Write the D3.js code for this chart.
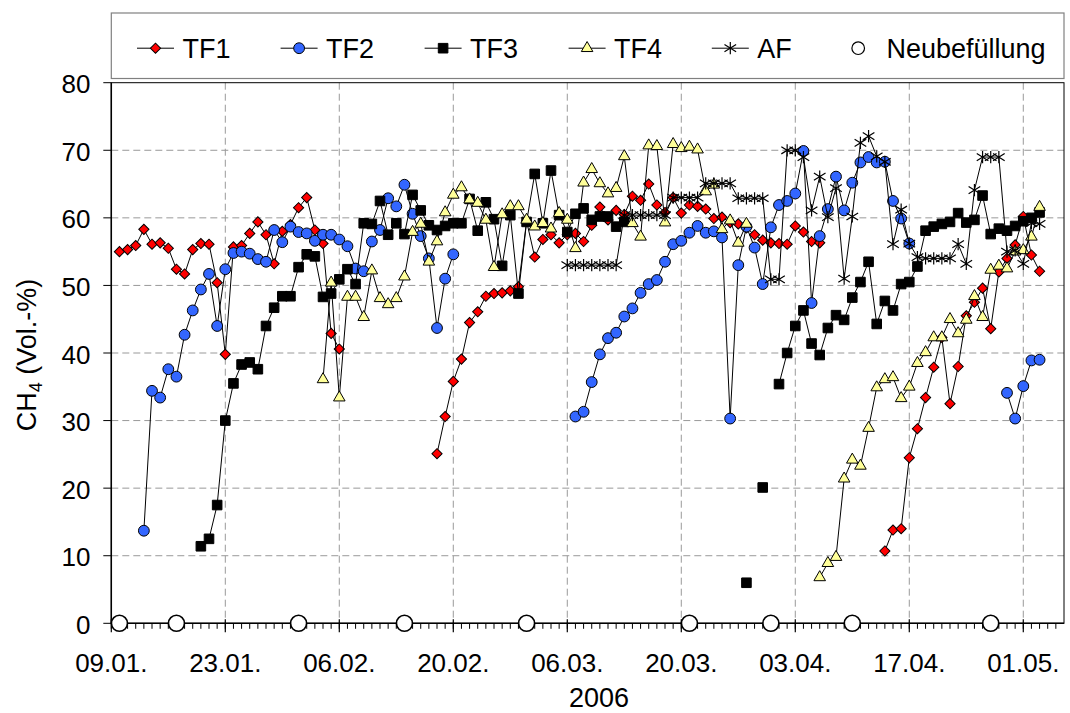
<!DOCTYPE html>
<html>
<head>
<meta charset="utf-8">
<script src="https://cdn.jsdelivr.net/npm/d3@7"></script>
<style>
  body { margin: 0; background: #fff; }
  text { font-family: "Liberation Sans", Arial, Helvetica, sans-serif; fill: #000; }
</style>
</head>
<body>
<svg id="chart" width="1070" height="713"></svg>
<script>
// Methane content of the gas from four test fermenters (TF1–TF4) and the
// full-scale fermenter (AF), daily readings, Jan–May 2006.
// Each series is a list of runs: [first day of run, daily values...].
// A new run starts after a gap (no reading), which breaks the line.

const TF1 = [
  ["2006-01-10", [55.0,55.3,55.9,58.3,56.1,56.3,55.5,52.4,51.7,55.3,56.2,56.1,50.4,39.8,
                  55.7,55.9,57.7,59.4,57.5,53.2,58.0,59.0,61.5,63.0,58.2,56.2,42.9,40.6]],
  ["2006-02-18", [25.1,30.6,35.8,39.1,44.5,46.1,48.4,48.8,48.9,49.2,49.8,59.5,54.2,56.8,
                  57.5,56.3,57.5,57.7,56.5,58.9,61.6,59.7,61.1,60.5,63.2,62.6,65.0,61.9,
                  60.8,63.0,60.7,61.9,61.7,61.3,59.9,60.1,59.3,59.1,58.5,57.5,56.7,56.3,
                  56.2,56.1,58.8,57.9,56.5,56.3]],
  ["2006-04-14", [10.7,13.8,14.0,24.5,28.8,33.4,37.9,42.3,32.5,38.0,45.5,47.5,49.6,43.6,
                  52.0,54.0,56.0,60.2,54.5,52.1]]
];

const TF2 = [
  ["2006-01-13", [13.7,34.4,33.4,37.6,36.5,42.7,46.3,49.4,51.7,44.0,52.4,54.8,55.0,54.7,
                  53.9,53.5,58.2,56.4,58.7,57.9,57.7,56.6,57.5,57.5,56.8,55.8,52.5,52.1,
                  56.5,58.2,62.9,61.7,64.9,60.6,57.3,54.0,43.7,51.0,54.6]],
  ["2006-03-07", [30.6,31.3,35.7,39.8,42.2,43.0,45.4,46.6,48.9,50.2,50.8,53.5,56.1,56.6,
                  57.8,58.8,57.8,58.0,57.1,30.3,53.0,58.7,55.6,50.2,58.6,61.9,62.5,63.6,
                  69.9,47.4,57.3,61.3,66.1,61.1,65.2,68.2,69.0,68.2,68.3,62.5,59.9,56.2]],
  ["2006-04-29", [34.1,30.3,35.1,38.9,39.0]]
];

const TF3 = [
  ["2006-01-20", [11.4,12.5,17.5,30.0,35.5,38.3,38.6,37.6,44.0,46.7,48.4,48.4,52.7,54.6,
                  54.3,48.3,48.8,50.9,52.4,50.2,59.2,59.1,62.5,57.5,59.2,57.6,63.4,61.1,
                  58.9,58.2,58.8,59.2,59.2,62.8,58.1,62.3,59.8,52.9,60.4,48.8,59.4,66.5,
                  59.2,67.0,60.4,57.9,60.6,61.4,59.7,60.2,60.2,58.7,59.4]],
  ["2006-03-28", [6.0]],
  ["2006-03-30", [20.1]],
  ["2006-04-01", [35.4,40.0,44.0,46.3,41.4,39.7,43.7,45.6,44.9,48.2,50.5,53.5,44.3,47.7,
                  46.3,50.2,50.5,52.8,58.1,58.7,59.1,59.4,60.7,59.3,59.7,63.3,57.6,58.4,
                  58.1,58.8,59.5,60.0,60.8]]
];

const TF4 = [
  ["2006-02-04", [36.1,50.4,33.4,48.3,48.3,45.3,52.2,48.1,47.2,48.1,51.3,57.9,59.1,53.5,
                  56.5,60.8,63.4,64.5,62.7,62.2,59.7,52.7,60.5,61.7,61.7,59.7,58.7,59.2,
                  58.4,60.7,59.7,55.5,65.2,67.2,65.1,63.6,64.4,69.1,59.2,57.2,70.7,70.6,
                  59.3,70.9,70.3,70.5,70.1,63.9,64.9,58.3,59.6,56.3,59.1]],
  ["2006-04-06", [6.8,8.9,9.8,21.4,24.2,23.3,28.9,34.9,36.1,36.4,33.3,35.0,38.5,40.1,
                  42.3,42.3,45.0,42.9,44.9,48.4,45.3,52.3,52.9,52.5,55.0,55.2,57.2,61.6]]
];

const AF = [
  ["2006-03-06", [53.0,53.0,53.0,53.0,53.0,53.0,53.0,60.4,60.4,60.4,60.4,60.4,60.4,63.0,
                  63.0,63.0,63.0,65.1,65.1,65.1,65.1,62.9,62.9,62.9,62.9,50.9,50.9,70.0,
                  70.0,69.0,61.1,66.1,60.1,64.4,51.0,60.2,71.1,72.1,69.1,68.3,56.1,61.2,
                  56.2,54.2,54.0,54.0,54.0,54.0,56.1,53.2,64.1,69.0,69.0,69.0,55.0,55.2,
                  53.2,59.2,59.1]]
];

// Days on which a fermenter was refilled (drawn on the time axis)
const refillDates = ["2006-01-10","2006-01-17","2006-02-01","2006-02-14","2006-03-01",
                     "2006-03-21","2006-03-31","2006-04-10","2006-04-27"];

const xTickDates = ["2006-01-09","2006-01-23","2006-02-06","2006-02-20","2006-03-06",
                    "2006-03-20","2006-04-03","2006-04-17","2006-05-01"];
const yTicks = [0,10,20,30,40,50,60,70,80];
const xDomain = ["2006-01-09","2006-05-06"];
const xTitle = "2006";

const seriesNames = ["TF1","TF2","TF3","TF4","AF"];
const refillName = "Neubefüllung";

// ---------------------------------------------------------------------------
const parse = d3.utcParse("%Y-%m-%d");
const fmt = d3.utcFormat("%d.%m.");
const svg = d3.select("#chart");

const box = { left: 111.3, right: 1064, top: 82.7, bottom: 623.3 };
const x = d3.scaleUtc().domain(xDomain.map(parse)).range([box.left, box.right]);
const y = d3.scaleLinear().domain([0, 80]).range([box.bottom, box.top]);

// marker shapes
const asterisk = {
  draw(ctx, size) {
    const r = Math.sqrt(size) / 2;
    const d = r * 0.95;
    ctx.moveTo(0, -r); ctx.lineTo(0, r);
    ctx.moveTo(-d, -d * 0.62); ctx.lineTo(d, d * 0.62);
    ctx.moveTo(-d, d * 0.62); ctx.lineTo(d, -d * 0.62);
  }
};
const styles = {
  TF1: { type: d3.symbolSquare, size: 52, rotate: 45, fill: "#ff0000", stroke: "#000", sw: 1 },
  TF2: { type: d3.symbolCircle, size: 92, rotate: 0, fill: "#3366ff", stroke: "#000", sw: 1 },
  TF3: { type: d3.symbolSquare, size: 92, rotate: 0, fill: "#000000", stroke: "#000", sw: 1 },
  TF4: { type: d3.symbolTriangle, size: 58, rotate: 0, fill: "#ffff99", stroke: "#000", sw: 1 },
  AF:  { type: asterisk, size: 150, rotate: 0, fill: "none", stroke: "#000", sw: 1.2 }
};
const seriesData = { TF1, TF2, TF3, TF4, AF };

// gridlines
const grid = svg.append("g");
grid.selectAll("line.h").data(yTicks.filter(t => t > 0 && t < 80)).join("line")
  .attr("x1", box.left).attr("x2", box.right)
  .attr("y1", d => y(d)).attr("y2", d => y(d))
  .attr("stroke", "#999").attr("stroke-dasharray", "7,4");
grid.selectAll("line.v").data(xTickDates.slice(1).map(parse)).join("line")
  .attr("x1", d => x(d)).attr("x2", d => x(d))
  .attr("y1", box.top).attr("y2", box.bottom)
  .attr("stroke", "#999").attr("stroke-dasharray", "7,4");

// plot frame
svg.append("rect").attr("x", box.left).attr("y", box.top)
  .attr("width", box.right - box.left).attr("height", box.bottom - box.top)
  .attr("fill", "none").attr("stroke", "#000").attr("stroke-width", 1);

// series
const line = d3.line().x(d => x(d.date)).y(d => y(d.v));
seriesNames.forEach(name => {
  const st = styles[name];
  const runs = seriesData[name].map(([start, vals]) => {
    const s = parse(start);
    return vals.map((v, i) => ({ date: d3.utcDay.offset(s, i), v }));
  });
  const g = svg.append("g");
  g.selectAll("path.l").data(runs).join("path")
    .attr("d", line).attr("fill", "none").attr("stroke", "#000").attr("stroke-width", 1);
  const sym = d3.symbol().type(st.type).size(st.size);
  g.selectAll("path.m").data(runs.flat()).join("path")
    .attr("d", sym)
    .attr("transform", d => `translate(${x(d.date)},${y(d.v)}) rotate(${st.rotate})`)
    .attr("fill", st.fill).attr("stroke", st.stroke).attr("stroke-width", st.sw);
});

// axes
const xAxisG = svg.append("g");
xAxisG.append("line").attr("x1", box.left).attr("x2", box.right)
  .attr("y1", box.bottom).attr("y2", box.bottom).attr("stroke", "#000").attr("stroke-width", 1.5);
const minor = d3.utcDay.range(...xDomain.map(parse));
xAxisG.selectAll("line.mn").data(minor).join("line")
  .attr("x1", d => x(d)).attr("x2", d => x(d))
  .attr("y1", box.bottom).attr("y2", box.bottom + 5.5).attr("stroke", "#000");
xAxisG.selectAll("line.mj").data(xTickDates.map(parse)).join("line")
  .attr("x1", d => x(d)).attr("x2", d => x(d))
  .attr("y1", box.bottom - 4).attr("y2", box.bottom + 9).attr("stroke", "#000").attr("stroke-width", 1.2);
xAxisG.selectAll("text").data(xTickDates.map(parse)).join("text")
  .attr("x", d => x(d)).attr("y", 672).attr("text-anchor", "middle")
  .attr("font-size", 26).text(d => fmt(d));

const yAxisG = svg.append("g");
yAxisG.append("line").attr("x1", box.left).attr("x2", box.left)
  .attr("y1", box.top).attr("y2", box.bottom).attr("stroke", "#000").attr("stroke-width", 1.5);
yAxisG.selectAll("line.t").data(yTicks).join("line")
  .attr("x1", box.left - 8).attr("x2", box.left)
  .attr("y1", d => y(d)).attr("y2", d => y(d)).attr("stroke", "#000");
yAxisG.selectAll("text").data(yTicks).join("text")
  .attr("x", 90.5).attr("y", d => y(d) + 10.5).attr("text-anchor", "end")
  .attr("font-size", 26).text(d => d);

// refill markers on the time axis
svg.append("g").selectAll("circle").data(refillDates.map(parse)).join("circle")
  .attr("cx", d => x(d)).attr("cy", y(0)).attr("r", 8)
  .attr("fill", "#fff").attr("stroke", "#000").attr("stroke-width", 1.6);

// axis titles
svg.append("text").attr("x", 599).attr("y", 707).attr("text-anchor", "middle")
  .attr("font-size", 27).text(xTitle);
const yt = svg.append("text").attr("transform", "translate(36,355) rotate(-90)")
  .attr("text-anchor", "middle").attr("font-size", 27);
yt.append("tspan").text("CH");
yt.append("tspan").attr("font-size", 18).attr("dy", 6).text("4");
yt.append("tspan").attr("dy", -6).text(" (Vol.-%)");

// legend
const lg = svg.append("g");
lg.append("rect").attr("x", 111.3).attr("y", 13).attr("width", 1064 - 111.3).attr("height", 65.5)
  .attr("fill", "#fff").attr("stroke", "#808080").attr("stroke-width", 1.2);
const legendX = { TF1: 137, TF2: 280.6, TF3: 424.6, TF4: 568.6, AF: 711.8 };
const ly = 48.2;
seriesNames.forEach(name => {
  const st = styles[name];
  const x0 = legendX[name];
  lg.append("line").attr("x1", x0).attr("x2", x0 + 37).attr("y1", ly).attr("y2", ly)
    .attr("stroke", "#000");
  lg.append("path").attr("d", d3.symbol().type(st.type).size(st.size)())
    .attr("transform", `translate(${x0 + 18.5},${ly}) rotate(${st.rotate})`)
    .attr("fill", st.fill).attr("stroke", st.stroke).attr("stroke-width", st.sw);
  lg.append("text").attr("x", x0 + 45.5).attr("y", 58).attr("font-size", 27).text(name);
});
lg.append("circle").attr("cx", 858.2).attr("cy", ly).attr("r", 6.3)
  .attr("fill", "#fff").attr("stroke", "#000").attr("stroke-width", 1.2);
lg.append("text").attr("x", 886.4).attr("y", 58).attr("font-size", 27).text(refillName);
</script>
</body>
</html>
